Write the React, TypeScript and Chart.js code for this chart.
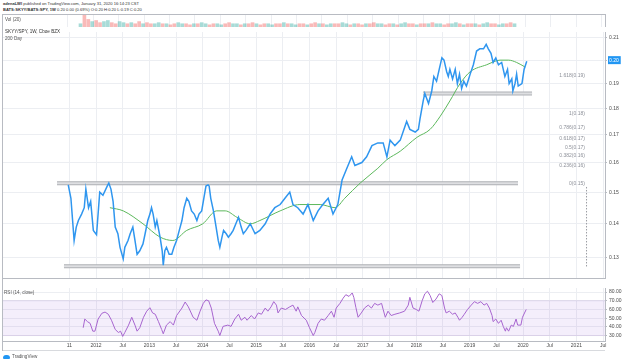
import React, { useEffect, useRef } from "react";
import { Chart, registerables } from "chart.js";

Chart.register(...registerables);

const FONT = "'Liberation Sans', Arial, sans-serif";

// ---------- time axis ----------
const X_MIN = 2010.2576;
const X_MAX = 2021.536;
const TIME_TICKS = [2011.5, 2012, 2012.5, 2013, 2013.5, 2014, 2014.5, 2015, 2015.5, 2016, 2016.5, 2017, 2017.5, 2018, 2018.5, 2019, 2019.5, 2020, 2020.5, 2021, 2021.5];
const TIME_LABELS = ["11", "2012", "Jul", "2013", "Jul", "2014", "Jul", "2015", "Jul", "2016", "Jul", "2017", "Jul", "2018", "Jul", "2019", "Jul", "2020", "Jul", "2021", "Jul"];

// ---------- price (SKYY/SPY weekly close) ----------
const PRICE_DATES = [
  2011.48, 2011.53, 2011.59, 2011.63, 2011.67, 2011.73, 2011.78, 2011.81, 2011.86, 2011.90,
  2011.95, 2012.01, 2012.07, 2012.13, 2012.21, 2012.24, 2012.28, 2012.32, 2012.36, 2012.41,
  2012.45, 2012.51, 2012.54, 2012.60, 2012.64, 2012.69, 2012.73, 2012.77, 2012.82, 2012.88,
  2012.92, 2012.97, 2013.01, 2013.04, 2013.07, 2013.11, 2013.14, 2013.20, 2013.24, 2013.26,
  2013.29, 2013.32, 2013.37, 2013.42, 2013.46, 2013.51, 2013.56, 2013.61, 2013.65, 2013.70,
  2013.74, 2013.79, 2013.84, 2013.89, 2013.93, 2013.98, 2014.02, 2014.06, 2014.10, 2014.12,
  2014.15, 2014.20, 2014.25, 2014.29, 2014.32, 2014.36, 2014.39, 2014.44, 2014.48, 2014.53,
  2014.57, 2014.62, 2014.67, 2014.72, 2014.76, 2014.81, 2014.89, 2014.98, 2015.07, 2015.17,
  2015.26, 2015.35, 2015.45, 2015.54, 2015.63, 2015.69, 2015.78, 2015.88, 2015.97, 2016.07,
  2016.16, 2016.25, 2016.35, 2016.44, 2016.53, 2016.61, 2016.70, 2016.79, 2016.85, 2016.98,
  2017.07, 2017.17, 2017.28, 2017.38, 2017.45, 2017.51, 2017.60, 2017.70, 2017.82, 2017.88,
  2017.98, 2018.04, 2018.07, 2018.13, 2018.16, 2018.23, 2018.29, 2018.33, 2018.38, 2018.43,
  2018.48, 2018.52, 2018.57, 2018.60, 2018.63, 2018.68, 2018.73, 2018.77, 2018.81, 2018.85,
  2018.89, 2018.94, 2019.01, 2019.07, 2019.13, 2019.19, 2019.26, 2019.31, 2019.35, 2019.40,
  2019.44, 2019.49, 2019.54, 2019.60, 2019.66, 2019.71, 2019.74, 2019.79, 2019.81, 2019.85,
  2019.88, 2019.91, 2019.98, 2020.02, 2020.07,
];
const PRICE_VALUES = [
  0.1524, 0.148, 0.135, 0.139, 0.141, 0.143, 0.145, 0.151, 0.145, 0.147,
  0.138, 0.1367, 0.150, 0.149, 0.152, 0.153, 0.151, 0.147, 0.139, 0.137,
  0.133, 0.1297, 0.133, 0.135, 0.137, 0.139, 0.135, 0.131, 0.132, 0.134,
  0.137, 0.141, 0.143, 0.145, 0.143, 0.139, 0.141, 0.136, 0.132, 0.1279,
  0.132, 0.133, 0.131, 0.131, 0.133, 0.135, 0.138, 0.141, 0.145, 0.148,
  0.147, 0.144, 0.143, 0.141, 0.143, 0.144, 0.148, 0.152, 0.1524, 0.152,
  0.148, 0.144, 0.139, 0.135, 0.133, 0.136, 0.138, 0.137, 0.136, 0.137,
  0.138, 0.140, 0.142, 0.139, 0.137, 0.138, 0.140, 0.137, 0.138, 0.140,
  0.143, 0.145, 0.146, 0.148, 0.150, 0.146, 0.145, 0.143, 0.146, 0.141,
  0.144, 0.146, 0.148, 0.143, 0.146, 0.154, 0.158, 0.162, 0.159, 0.160,
  0.162, 0.166, 0.167, 0.167, 0.162, 0.168, 0.166, 0.168, 0.175, 0.172,
  0.171, 0.172, 0.176, 0.183, 0.186, 0.182, 0.187, 0.193, 0.191, 0.196,
  0.201, 0.200, 0.195, 0.193, 0.196, 0.192, 0.196, 0.190, 0.194, 0.188,
  0.191, 0.189, 0.194, 0.198, 0.204, 0.205, 0.205, 0.207, 0.205, 0.203,
  0.199, 0.201, 0.198, 0.199, 0.193, 0.196, 0.190, 0.192, 0.187, 0.190,
  0.194, 0.189, 0.190, 0.196, 0.1995,
];

// ---------- 200 day moving average ----------
const MA_DATES = [2012.26, 2012.51, 2012.88, 2013.20, 2013.44, 2013.70, 2014.00, 2014.26, 2014.42, 2014.64, 2014.89, 2015.07, 2015.45, 2015.82, 2016.20, 2016.48, 2016.66, 2016.95, 2017.28, 2017.45, 2017.70, 2018.01, 2018.26, 2018.45, 2018.63, 2018.82, 2019.01, 2019.32, 2019.57, 2019.73, 2019.88, 2020.04];
const MA_VALUES = [0.145, 0.144, 0.140, 0.136, 0.135, 0.138, 0.140, 0.144, 0.144, 0.142, 0.140, 0.141, 0.144, 0.146, 0.146, 0.145, 0.148, 0.153, 0.158, 0.161, 0.164, 0.169, 0.172, 0.177, 0.183, 0.190, 0.195, 0.198, 0.200, 0.200, 0.199, 0.197];

// ---------- RSI (14, close) ----------
const RSI_DATES = [
  2011.76, 2011.79, 2011.84, 2011.89, 2011.94, 2011.98, 2012.04, 2012.11, 2012.17, 2012.23,
  2012.29, 2012.36, 2012.42, 2012.46, 2012.50, 2012.54, 2012.61, 2012.67, 2012.73, 2012.77,
  2012.82, 2012.89, 2012.95, 2013.01, 2013.06, 2013.11, 2013.17, 2013.23, 2013.26, 2013.32,
  2013.39, 2013.45, 2013.51, 2013.61, 2013.67, 2013.73, 2013.82, 2013.89, 2013.95, 2014.01,
  2014.06, 2014.11, 2014.16, 2014.22, 2014.29, 2014.32, 2014.38, 2014.47, 2014.53, 2014.60,
  2014.67, 2014.72, 2014.79, 2014.83, 2014.91, 2014.97, 2015.04, 2015.10, 2015.17, 2015.22,
  2015.28, 2015.33, 2015.38, 2015.41, 2015.47, 2015.55, 2015.63, 2015.69, 2015.75, 2015.78,
  2015.85, 2015.94, 2016.00, 2016.07, 2016.10, 2016.16, 2016.22, 2016.28, 2016.35, 2016.41,
  2016.46, 2016.50, 2016.57, 2016.63, 2016.68, 2016.74, 2016.80, 2016.83, 2016.87, 2016.91,
  2016.97, 2017.03, 2017.10, 2017.16, 2017.22, 2017.28, 2017.35, 2017.38, 2017.42, 2017.47,
  2017.53, 2017.60, 2017.69, 2017.78, 2017.85, 2017.88, 2017.94, 2018.00, 2018.05, 2018.11,
  2018.16, 2018.21, 2018.26, 2018.31, 2018.37, 2018.43, 2018.48, 2018.53, 2018.56, 2018.62,
  2018.68, 2018.73, 2018.78, 2018.81, 2018.86, 2018.90, 2018.96, 2019.03, 2019.09, 2019.15,
  2019.21, 2019.27, 2019.32, 2019.37, 2019.42, 2019.44, 2019.49, 2019.54, 2019.59, 2019.63,
  2019.67, 2019.69, 2019.73, 2019.78, 2019.82, 2019.87, 2019.90, 2019.96, 2019.99, 2020.06,
];
const RSI_VALUES = [
  39, 49, 46, 44, 35, 35, 49, 55.6, 57, 54.5,
  47.6, 37, 33.5, 35, 29, 33.5, 42, 51, 42, 35,
  39, 51, 58, 62, 56, 54.5, 46, 37, 32, 42,
  46, 42, 53, 61.6, 68.6, 63, 51, 47.6, 58, 67,
  71, 70, 61.6, 44, 35, 30, 40.5, 42, 40.5, 49,
  54.5, 47.6, 51, 47.6, 53, 49, 56, 54.5, 61.6, 58,
  63, 69, 65, 56, 61.6, 60, 63, 65, 58, 63,
  53, 47.6, 39, 30, 33.5, 44, 49, 47.6, 53, 58,
  51, 61.6, 67, 73, 77, 75, 79, 74, 62, 51,
  56, 61.6, 65, 61.6, 67, 65, 67, 60, 51, 58,
  53, 54.5, 56, 58, 65, 74, 61.6, 60, 58, 70,
  78, 81, 76, 68, 72, 78, 76, 61.6, 56, 58,
  54.5, 56, 51, 47.6, 51, 54.5, 60, 65, 69, 67,
  69, 65, 67, 61.6, 53, 46, 49, 44, 47.6, 40.5,
  35, 39, 35, 42, 40.5, 49, 42, 42, 51, 60,
];
const RSI_BAND = [30, 70];

// ---------- volume ----------
const VOL_START = 2011.5;
const VOL_STEP = 4 / 52;
const VOL_VALUES = [
  3, 11, 7, 5, 6, 4, 5, 6, 4, 3,
  5, 4, 3, 4, 3, 5, 3, 4, 3, 3,
  4, 3, 3, 2, 3, 4, 3, 3, 2, 3,
  3, 4, 3, 2, 3, 3, 2, 3, 4, 3,
  3, 2, 3, 3, 4, 3, 2, 3, 3, 2,
  3, 3, 4, 3, 3, 2, 3, 3, 2, 3,
  4, 3, 3, 2, 3, 3, 3, 4, 3, 2,
  3, 3, 2, 3, 3, 4, 3, 3, 2, 3,
  3, 2, 3, 4, 3, 3, 2, 3, 3, 3,
  4, 3, 3, 2, 3, 3, 4, 3, 2, 3,
  3, 3, 2, 3, 4, 3, 3, 2, 3, 3,
  4, 3,
];
const VOL_DIR = "uddudduudduududdudduududduudduduudduudduududdudduudduduuddudduduudduududdudduudduduuddudduduudduududduduudduudd";

// ---------- axes ticks ----------
const PRICE_TICKS = [0.13, 0.14, 0.15, 0.16, 0.17, 0.18, 0.19, 0.20, 0.21];
const RSI_TICKS = [30, 40, 50, 60, 70, 80];

// ---------- drawings ----------
const RECT_STARTS = [2011.27, 2011.40, 2018.126];
const RECT_ENDS = [2019.906, 2019.944, 2020.169];
const RECT_LEVELS = [0.1529, 0.1276, 0.186];
const FIB_RATIOS = [0, 0.236, 0.382, 0.5, 0.618, 0.786, 1, 1.618];
const FIB_LOW = 0.1529;
const FIB_HIGH = 0.178;
const FIB_LABEL_X = 2021.16;
const FIB_LINE_X = 2021.19;
const FIB_LINE_FROM = 0.1517;
const FIB_LINE_TO = 0.1272;

const GRID = "#eceef2";
const AXIS = "#b8bbc2";
const TEXT = "#4a4a4a";

function xScale(showLabels: boolean) {
  return {
    type: "linear",
    min: X_MIN,
    max: X_MAX,
    afterBuildTicks: (s: any) => {
      s.ticks = TIME_TICKS.map((v) => ({ value: v }));
    },
    afterFit: (s: any) => {
      s.height = showLabels ? 10 : 0;
    },
    ticks: {
      display: showLabels,
      autoSkip: false,
      maxRotation: 0,
      padding: 2,
      color: TEXT,
      font: { size: 5, family: FONT },
      callback: (_v: any, i: number) => TIME_LABELS[i],
    },
    grid: { color: GRID, lineWidth: 1, drawTicks: false },
    border: { display: true, color: AXIS },
  };
}

function rightAxisBase() {
  return {
    position: "right",
    afterFit: (s: any) => {
      s.width = 19;
    },
    grid: { color: GRID, lineWidth: 1, drawTicks: true, tickLength: 2, tickColor: AXIS },
    border: { display: true, color: AXIS },
  };
}

const commonOptions = {
  responsive: false,
  animation: false,
  events: [],
  layout: { padding: { left: 3, right: 0, top: 0, bottom: 0 } },
  plugins: { legend: { display: false }, tooltip: { enabled: false }, title: { display: false } },
};

const fibPlugin = {
  id: "fibLabels",
  afterDatasetsDraw(chart: any) {
    const { ctx, scales } = chart;
    const x = scales.x;
    const y = scales.y;
    ctx.save();
    ctx.font = `5px ${FONT}`;
    ctx.fillStyle = "#8d9099";
    ctx.textAlign = "right";
    ctx.textBaseline = "middle";
    FIB_RATIOS.forEach((r) => {
      const v = FIB_LOW + r * (FIB_HIGH - FIB_LOW);
      ctx.fillText(`${r}(${v.toFixed(2)})`, x.getPixelForValue(FIB_LABEL_X), y.getPixelForValue(v));
    });
    ctx.restore();
  },
};

export default function App() {
  const volRef = useRef<HTMLCanvasElement>(null);
  const mainRef = useRef<HTMLCanvasElement>(null);
  const rsiRef = useRef<HTMLCanvasElement>(null);

  useEffect(() => {
    const lastPrice = PRICE_VALUES[PRICE_VALUES.length - 1];
    const isLast = (c: any) => c && c.tick && Math.abs(c.tick.value - lastPrice) < 0.005;

    const rectDatasets: any[] = [];
    RECT_LEVELS.forEach((lvl, i) => {
      const pts = [
        { x: RECT_STARTS[i], y: lvl },
        { x: RECT_ENDS[i], y: lvl },
      ];
      rectDatasets.push({ data: pts, borderColor: "#aeb0b5", borderWidth: 4, pointRadius: 0, borderCapStyle: "butt", order: 10 });
      rectDatasets.push({ data: pts, borderColor: "#dedfe2", borderWidth: 2, pointRadius: 0, borderCapStyle: "butt", order: 9 });
    });

    const volChart = new Chart(volRef.current as HTMLCanvasElement, {
      type: "bar",
      data: {
        datasets: [
          {
            data: VOL_VALUES.map((v, i) => ({ x: VOL_START + i * VOL_STEP, y: v })),
            backgroundColor: VOL_VALUES.map((_, i) =>
              VOL_DIR[i % VOL_DIR.length] === "u" ? "rgba(38,166,154,0.4)" : "rgba(239,83,80,0.4)"
            ),
            barThickness: 3,
          },
        ],
      },
      options: {
        ...commonOptions,
        scales: {
          x: xScale(false),
          y: { ...rightAxisBase(), min: 0, max: 12, ticks: { display: false }, grid: { display: false } },
        },
      } as any,
    });

    const mainChart = new Chart(mainRef.current as HTMLCanvasElement, {
      type: "line",
      data: {
        datasets: [
          ...rectDatasets,
          {
            data: [
              { x: FIB_LINE_X, y: FIB_LINE_FROM },
              { x: FIB_LINE_X, y: FIB_LINE_TO },
            ],
            borderColor: "#9a9ca3",
            borderWidth: 1,
            borderDash: [1.5, 1.5],
            pointRadius: 0,
            order: 8,
          },
          {
            data: MA_DATES.map((d, i) => ({ x: d, y: MA_VALUES[i] })),
            borderColor: "#5cb85c",
            borderWidth: 1,
            pointRadius: 0,
            cubicInterpolationMode: "monotone",
            order: 2,
          },
          {
            data: PRICE_DATES.map((d, i) => ({ x: d, y: PRICE_VALUES[i] })),
            borderColor: "#2f96ef",
            borderWidth: 1.5,
            pointRadius: 0,
            tension: 0,
            order: 1,
          },
        ],
      },
      options: {
        ...commonOptions,
        scales: {
          x: xScale(false),
          y: {
            ...rightAxisBase(),
            type: "logarithmic",
            min: 0.1244,
            max: 0.21265,
            afterBuildTicks: (s: any) => {
              s.ticks = PRICE_TICKS.map((v) => ({ value: v }));
            },
            ticks: {
              padding: 2,
              font: { size: 5, family: FONT },
              color: (c: any) => (isLast(c) ? "#ffffff" : TEXT),
              showLabelBackdrop: (c: any) => isLast(c),
              backdropColor: "#2196f3",
              backdropPadding: { top: 1, bottom: 1, left: 1, right: 2 },
              callback: (v: any) => Number(v).toFixed(2),
            },
          },
        },
      } as any,
      plugins: [fibPlugin],
    });

    const rsiChart = new Chart(rsiRef.current as HTMLCanvasElement, {
      type: "line",
      data: {
        datasets: [
          {
            data: [
              { x: X_MIN, y: RSI_BAND[1] },
              { x: X_MAX, y: RSI_BAND[1] },
            ],
            borderColor: "rgba(180,150,210,0.5)",
            borderWidth: 0.5,
            pointRadius: 0,
            fill: { value: RSI_BAND[0] },
            backgroundColor: "rgba(156,100,220,0.11)",
            order: 5,
          },
          {
            data: [
              { x: X_MIN, y: RSI_BAND[0] },
              { x: X_MAX, y: RSI_BAND[0] },
            ],
            borderColor: "rgba(180,150,210,0.5)",
            borderWidth: 0.5,
            pointRadius: 0,
            fill: false,
            order: 4,
          },
          {
            data: RSI_DATES.map((d, i) => ({ x: d, y: RSI_VALUES[i] })),
            borderColor: "#a765cf",
            borderWidth: 1,
            pointRadius: 0,
            tension: 0,
            fill: false,
            order: 1,
          },
        ],
      },
      options: {
        ...commonOptions,
        scales: {
          x: xScale(true),
          y: {
            ...rightAxisBase(),
            type: "linear",
            min: 23.7,
            max: 84.7,
            afterBuildTicks: (s: any) => {
              s.ticks = RSI_TICKS.map((v) => ({ value: v }));
            },
            ticks: {
              padding: 2,
              font: { size: 5, family: FONT },
              color: TEXT,
              callback: (v: any) => Number(v).toFixed(2),
            },
          },
        },
      } as any,
    });

    return () => {
      volChart.destroy();
      mainChart.destroy();
      rsiChart.destroy();
    };
  }, []);

  const abs = (left: number, top: number, extra: any = {}) => ({ position: "absolute" as const, left, top, ...extra });
  const small = { fontSize: 4.6, lineHeight: "5px", whiteSpace: "nowrap" as const, color: "#333" };
  const header = { ...small, fontSize: 4.1 };

  return (
    <div style={{ position: "fixed", left: 0, top: 0, width: 624, height: 362, background: "#fff", overflow: "hidden", fontFamily: FONT }}>
      <div style={abs(3, 1, header)}>
        <b>adenaLWI</b> published on TradingView.com, January 31, 2020 16:14:23 CST
      </div>
      <div style={abs(3, 7, header)}>
        <b>BATS:SKYY/BATS:SPY, 1W</b> 0.20 0.00 (0.69%) O:0.20 H:0.20 L:0.19 C:0.20
      </div>
      <canvas ref={volRef} width={624} height={13} style={abs(0, 14, { width: 624, height: 13, display: "block" })} />
      <canvas ref={mainRef} width={624} height={256} style={abs(0, 27, { width: 624, height: 256, display: "block" })} />
      <canvas ref={rsiRef} width={624} height={68} style={abs(0, 283, { width: 624, height: 68, display: "block" })} />
      <div style={abs(3, 14, { width: 602, height: 0, borderTop: `1px solid ${AXIS}` })} />
      <div style={abs(2, 14, { width: 0, height: 337, borderLeft: `1px solid ${AXIS}` })} />
      <div style={abs(3, 350, { width: 602, height: 0, borderTop: "1px solid #d8dade" })} />
      <div style={abs(5, 17, { ...small, color: "#555" })}>Vol (20)</div>
      <div style={abs(5, 29, small)}>SKYY/SPY, 1W, Cboe BZX</div>
      <div style={abs(5, 36, { ...small, color: "#555" })}>200 Day</div>
      <div style={abs(4, 290, { ...small, color: "#555" })}>RSI (14, close)</div>
      <div style={abs(3, 354, { display: "flex", alignItems: "center", gap: 2 })}>
        <div style={{ width: 7, height: 4, background: "#2196f3", borderRadius: "3px 3px 1px 1px" }} />
        <span style={{ ...small, color: "#555" }}>TradingView</span>
      </div>
    </div>
  );
}
